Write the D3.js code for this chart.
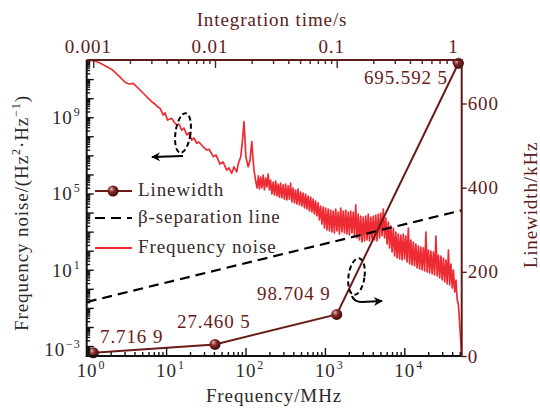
<!DOCTYPE html>
<html><head><meta charset="utf-8">
<script src="https://cdn.jsdelivr.net/npm/d3@7"></script>
<style>
body{margin:0;background:#fff;}
svg text{font-family:"Liberation Serif","Times New Roman",serif;}
</style></head><body>
<svg id="chart" width="540" height="411"></svg>
<script>
// ---------- data ----------
// frequency noise spectrum: low-frequency part
const noiseFreqLow = [1,1.17,1.47,2.07,2.48,3.04,3.41,3.86,4.43,5.16,5.74,6.59,7.25,7.9,8.4,9.23,9.7,10.4,11.8,12.6,13.6,14.6,15.7,16.8,18.2,19.4,21.0,22.4,24.3,25.9,29.4,32.4,34.7,39.3,42.5,47.7,52.1,58.0,62.0,67.0,71.6,77.4,81.6,87.1,91.7,95.7,98.6,101,108,114,120,124,128];
const noiseValueLow = [1.1e12,1e12,6.9e11,3.2e11,1.6e11,6.8e10,5.5e10,6.0e10,3.4e10,1.8e10,1.15e10,6.5e9,4.9e9,3.4e9,2.9e9,1.3e9,1.7e9,7.1e8,8.7e8,5.6e8,3.9e8,4.4e8,2.1e8,2.7e8,1.17e8,1.5e8,6.3e7,8.1e7,4.3e7,5.0e7,2.8e7,1.9e7,2.1e7,8.5e6,1.05e7,3.5e6,4.5e6,1.7e6,2.2e6,1.15e6,2.5e6,1.35e6,4.0e6,8.5e6,6.3e7,5.8e8,6.3e7,8.5e6,2.5e6,5.7e6,5.2e7,7.3e6,1.7e6];
// frequency noise spectrum: noisy high-frequency part
const noiseFreqHigh = [
135,140,145,150,155.5,161,167,173,179.5,186,
193,200,207,215,223,231,240,249,258,267,
277,287,298,309,320,332,344,357,370,384,
398,413,428,444,460,477,495,513,532,552,
572,593,615,638,662,686,711,737,764,792,
822,852,884,917,951,986,1022,1060,1099,1140,
1182,1226,1271,1318,1367,1418,1470,1524,1581,1639,
1700,1763,1828,1896,1966,2038,2114,2192,2273,2357,
2444,2535,2628,2726,2826,2931,3039,3152,3268,3389,
3515,3645,3779,3919,4064,4215,4371,4532,4700,4874,
5054,5241,5435,5636,5845,6061,6285,6518,6759,7009,
7268,7537,7816,8105,8405,8716,9038,9373,9720,10080,
10450,10840,11240,11660,12090,12530,13000,13480,13980,14500,
15030,15590,16170,16770,17390,18030,18700,19390,20110,20850,
21620,22420,23250,24110,25000,25930,26890,27880,28910,29980,
31090,32240,33440,34670,35960,37290,38670,40100,41580,43120,
44720,46370,48090,49870,51710,52500];
const noiseValueHigh = [
4.0e5,1.94e5,8.3e5,1.72e5,7.3e5,1.94e5,9.3e5,1.52e5,6.5e5,2.19e5,
1.05e6,1.52e5,5.1e5,9.4e4,4.0e5,8.3e4,4.5e5,7.4e4,3.1e5,6.5e4,
3.55e5,5.8e4,2.8e5,5.1e4,3.1e5,4.6e4,2.5e5,5.1e4,3.55e5,3.6e4,
1.94e5,3.2e4,1.52e5,2.8e4,1.72e5,2.5e4,1.2e5,2.2e4,1.06e5,1.73e4,
9.4e4,1.54e4,7.4e4,1.21e4,6.5e4,1.07e4,5.1e4,8.4e3,4.0e4,6.6e3,
3.2e4,4.1e3,2.2e4,2.5e3,1.96e4,1.55e3,1.73e4,1.22e3,1.54e4,1.08e3,
1.36e4,957,1.21e4,847,1.54e4,1.08e3,1.07e4,751,1.73e4,957,
1.21e4,847,1.36e4,751,1.07e4,666,1.21e4,847,1.07e4,590,
2.5e4,463,8.4e3,364,6.6e3,286,5.8e3,323,6.6e3,364,
8.4e3,323,5.8e3,411,6.6e3,364,7.4e3,323,8.4e3,463,
9.5e3,590,1.54e4,463,5.2e3,225,3.2e3,139,1.97e3,85.5,
1.55e3,52.7,957,41.4,751,36.7,666,32.5,751,36.7,
590,25.5,1.55e3,20.1,364,17.8,286,15.8,225,12.4,
176,11.0,156,9.7,139,8.6,957,7.6,109,6.8,
96.4,6.0,85.5,5.3,590,4.7,59.5,3.7,52.7,2.9,
41.4,2.3,32.5,1.8,109,1.59,20.1,1.1,9.7,0.68,
2.9,0.26,0.142,0.0127,0.00113,3e-4];
const betaFreq = [1, 52800];
const betaValue = [0.204, 1.31e4];
const integrationTime = [0.001, 0.01, 0.1, 1];
const linewidth = [7.7169, 27.4605, 98.7049, 695.5925];
const linewidthLabels = ["7.716 9", "27.460 5", "98.704 9", "695.592 5"];
const freqTicks = [1, 10, 100, 1000, 10000];
const freqTickExp = ["0", "1", "2", "3", "4"];
const noiseTicks = [1e-3, 1e1, 1e5, 1e9];
const noiseTickExp = ["\u22123", "1", "5", "9"];
const timeTicks = [0.001, 0.01, 0.1, 1];
const timeTickLabels = ["0.001", "0.01", "0.1", "1"];
const lwTicks = [0, 200, 400, 600];
const legendLabels = ["Linewidth", "\u03b2-separation line", "Frequency noise"];

// ---------- setup ----------
const svg = d3.select("#chart");
const L = 86.7, R = 461.7, T = 60, B = 356;
const maroon = "#5e1b1b", dark = "#2a2a2a", red = "#ee2b33", lineC = "#6b1a1a";
const FS = 19, LS = 0.9;

const x = d3.scaleLog().domain([1, 52800]).range([L, R]);
const y = d3.scaleLog().domain([Math.pow(10, -3.522), 1e12]).range([B, T]);
const xTop = d3.scaleLog().domain([8.83e-4, 1.064]).range([L, R]);
const yR = d3.scaleLinear().domain([0, 703.4]).range([B, T]);

const defs = svg.append("defs");
defs.append("clipPath").attr("id", "clip").append("rect")
  .attr("x", L).attr("y", T).attr("width", R - L).attr("height", B - T);
const grad = defs.append("radialGradient").attr("id", "ball")
  .attr("cx", "40%").attr("cy", "40%").attr("r", "60%").attr("fx", "35%").attr("fy", "30%");
grad.append("stop").attr("offset", "0%").attr("stop-color", "#e7b5b5");
grad.append("stop").attr("offset", "45%").attr("stop-color", "#8a2b2b");
grad.append("stop").attr("offset", "100%").attr("stop-color", "#3d0a0a");
defs.append("marker").attr("id", "ahL").attr("viewBox", "0 0 10 10").attr("refX", 9).attr("refY", 5)
  .attr("markerWidth", 12).attr("markerHeight", 9).attr("markerUnits", "userSpaceOnUse").attr("orient", "auto")
  .append("path").attr("d", "M0,0 L10,5 L0,10 L3,5 Z").attr("fill", "#000");

function minorLog(lo, hi) {
  const out = [];
  for (let d = Math.floor(Math.log10(lo)) - 1; d <= Math.ceil(Math.log10(hi)); d++)
    for (let m = 2; m <= 9; m++) { const v = m * Math.pow(10, d); if (v > lo && v < hi) out.push(v); }
  return out;
}
function decades(lo, hi) {
  const out = [];
  for (let d = Math.ceil(Math.log10(lo)); d <= Math.floor(Math.log10(hi)); d++) out.push(Math.pow(10, d));
  return out;
}
function styleAxis(g, color) {
  g.select(".domain").remove();
  g.selectAll(".tick line").attr("stroke", color).attr("stroke-width", 1.4);
  g.selectAll(".tick text").remove();
}

// ---------- data marks ----------
const plot = svg.append("g").attr("clip-path", "url(#clip)");
const noiseData = noiseFreqLow.map((f, i) => [f, noiseValueLow[i]])
  .concat(noiseFreqHigh.map((f, i) => [f, noiseValueHigh[i]]));
plot.append("path").datum(noiseData)
  .attr("fill", "none").attr("stroke", red).attr("stroke-width", 1.7).attr("stroke-linejoin", "round")
  .attr("d", d3.line().x(d => x(d[0])).y(d => y(d[1])));

const betaData = betaFreq.map((f, i) => [f, betaValue[i]]);
plot.append("path").datum(betaData)
  .attr("fill", "none").attr("stroke", "#000").attr("stroke-width", 2.2).attr("stroke-dasharray", "10,6")
  .attr("d", d3.line().x(d => x(d[0])).y(d => y(d[1])));

const lwData = integrationTime.map((t, i) => [t, linewidth[i]]);
svg.append("path").datum(lwData)
  .attr("fill", "none").attr("stroke", lineC).attr("stroke-width", 2)
  .attr("d", d3.line().x(d => xTop(d[0])).y(d => yR(d[1])));
svg.selectAll("circle.lw").data(lwData).join("circle").attr("class", "lw")
  .attr("cx", d => xTop(d[0])).attr("cy", d => yR(d[1])).attr("r", 5.5).attr("fill", "url(#ball)");

// ---------- axes ----------
const gB = svg.append("g").attr("transform", `translate(0,${B})`);
gB.append("g").call(d3.axisBottom(x).tickValues(decades(1, 52800)).tickSize(-8).tickSizeOuter(0)).call(styleAxis, "#111");
gB.append("g").call(d3.axisBottom(x).tickValues(minorLog(1, 52800)).tickSize(-4).tickSizeOuter(0)).call(styleAxis, "#111");
const gL = svg.append("g").attr("transform", `translate(${L},0)`);
gL.append("g").call(d3.axisLeft(y).tickValues(decades(Math.pow(10, -3.522), 1e12)).tickSize(-7).tickSizeOuter(0)).call(styleAxis, "#111");
gL.append("g").call(d3.axisLeft(y).tickValues(minorLog(Math.pow(10, -3.522), 1e12)).tickSize(-3.5).tickSizeOuter(0)).call(styleAxis, "#111");
const gT = svg.append("g").attr("transform", `translate(0,${T})`);
gT.append("g").call(d3.axisTop(xTop).tickValues(timeTicks).tickSize(-8).tickSizeOuter(0)).call(styleAxis, maroon);
gT.append("g").call(d3.axisTop(xTop).tickValues(minorLog(8.83e-4, 1.064)).tickSize(-4).tickSizeOuter(0)).call(styleAxis, maroon);
const gR = svg.append("g").attr("transform", `translate(${R},0)`);
gR.append("g").call(d3.axisRight(yR).tickValues(lwTicks).tickSize(5).tickSizeOuter(0)).call(styleAxis, maroon);

svg.append("line").attr("x1", L).attr("x2", L).attr("y1", T).attr("y2", B).attr("stroke", "#111").attr("stroke-width", 2);
svg.append("line").attr("x1", L - 1).attr("x2", R).attr("y1", B).attr("y2", B).attr("stroke", "#111").attr("stroke-width", 2);
svg.append("line").attr("x1", L).attr("x2", R + 1).attr("y1", T).attr("y2", T).attr("stroke", maroon).attr("stroke-width", 2);
svg.append("line").attr("x1", R).attr("x2", R).attr("y1", T).attr("y2", B + 1).attr("stroke", maroon).attr("stroke-width", 2);

const txt = (g) => g.attr("font-size", FS).attr("letter-spacing", LS);
freqTicks.forEach((v, i) => {
  const t = svg.append("text").call(txt).attr("x", x(v) - 10).attr("y", B + 21).attr("fill", dark);
  t.append("tspan").text("10");
  t.append("tspan").attr("font-size", 12).attr("dy", -8).attr("dx", 1).text(freqTickExp[i]);
});
noiseTicks.forEach((v, i) => {
  const t = svg.append("text").call(txt).attr("x", L - 6).attr("y", y(v) + 7 + (i === 0 ? 3 : 0)).attr("fill", dark).attr("text-anchor", "end");
  t.append("tspan").text("10");
  t.append("tspan").attr("font-size", 12).attr("dy", -8).attr("dx", 1).text(noiseTickExp[i]);
});
timeTicks.forEach((v, i) => {
  svg.append("text").call(txt).attr("x", xTop(v) - 5).attr("y", T - 7).attr("fill", maroon)
    .attr("text-anchor", "middle").text(timeTickLabels[i]);
});
lwTicks.forEach(v => {
  svg.append("text").call(txt).attr("x", R + 6).attr("y", yR(v) + 6.5).attr("fill", maroon).text(v);
});

svg.append("text").call(txt).attr("x", 272).attr("y", 26).attr("text-anchor", "middle").attr("fill", maroon).text("Integration time/s");
svg.append("text").call(txt).attr("x", 274).attr("y", 402).attr("text-anchor", "middle").attr("fill", dark).text("Frequency/MHz");
const yt = svg.append("text").call(txt).attr("transform", "translate(28,213) rotate(-90)").attr("text-anchor", "middle").attr("fill", dark);
yt.append("tspan").text("Frequency noise/(Hz");
yt.append("tspan").attr("font-size", 12).attr("dy", -8).text("2");
yt.append("tspan").attr("dy", 8).text("\u00b7Hz");
yt.append("tspan").attr("font-size", 12).attr("dy", -8).text("\u22121");
yt.append("tspan").attr("dy", 8).text(")");
svg.append("text").call(txt).attr("transform", "translate(537,205) rotate(-90)").attr("text-anchor", "middle").attr("fill", maroon).text("Linewidth/kHz");

const annPos = [[100, 343, "start"], [177, 328, "start"], [257, 300, "start"], [448, 84, "end"]];
linewidthLabels.forEach((s, i) => {
  svg.append("text").call(txt).attr("x", annPos[i][0]).attr("y", annPos[i][1]).attr("text-anchor", annPos[i][2])
    .attr("fill", lineC).text(s);
});

const lg = svg.append("g");
lg.append("line").attr("x1", 95).attr("x2", 132).attr("y1", 191).attr("y2", 191).attr("stroke", lineC).attr("stroke-width", 2);
lg.append("circle").attr("cx", 113).attr("cy", 191).attr("r", 5.5).attr("fill", "url(#ball)");
lg.append("line").attr("x1", 95).attr("x2", 132).attr("y1", 218).attr("y2", 218).attr("stroke", "#000").attr("stroke-width", 2.2).attr("stroke-dasharray", "10,6");
lg.append("line").attr("x1", 95).attr("x2", 132).attr("y1", 248).attr("y2", 248).attr("stroke", red).attr("stroke-width", 1.8);
[196, 223, 253].forEach((yy, i) => {
  lg.append("text").call(txt).attr("x", 138).attr("y", yy).attr("fill", "#3a2a2a").text(legendLabels[i]);
});

svg.append("ellipse").attr("cx", 0).attr("cy", 0).attr("rx", 7.5).attr("ry", 20)
  .attr("transform", "translate(183,133) rotate(8)")
  .attr("fill", "none").attr("stroke", "#000").attr("stroke-width", 2).attr("stroke-dasharray", "5,3");
svg.append("path").attr("d", "M183,156 L152,157").attr("fill", "none").attr("stroke", "#000").attr("stroke-width", 2.2)
  .attr("marker-end", "url(#ahL)");
svg.append("ellipse").attr("cx", 0).attr("cy", 0).attr("rx", 8).attr("ry", 18.5)
  .attr("transform", "translate(356.5,276.5) rotate(8)")
  .attr("fill", "none").attr("stroke", "#000").attr("stroke-width", 2).attr("stroke-dasharray", "5,3");
svg.append("path").attr("d", "M352,296 Q354,302 362,302 L382,301").attr("fill", "none").attr("stroke", "#000").attr("stroke-width", 2.2)
  .attr("marker-end", "url(#ahL)");
</script>
</body></html>
